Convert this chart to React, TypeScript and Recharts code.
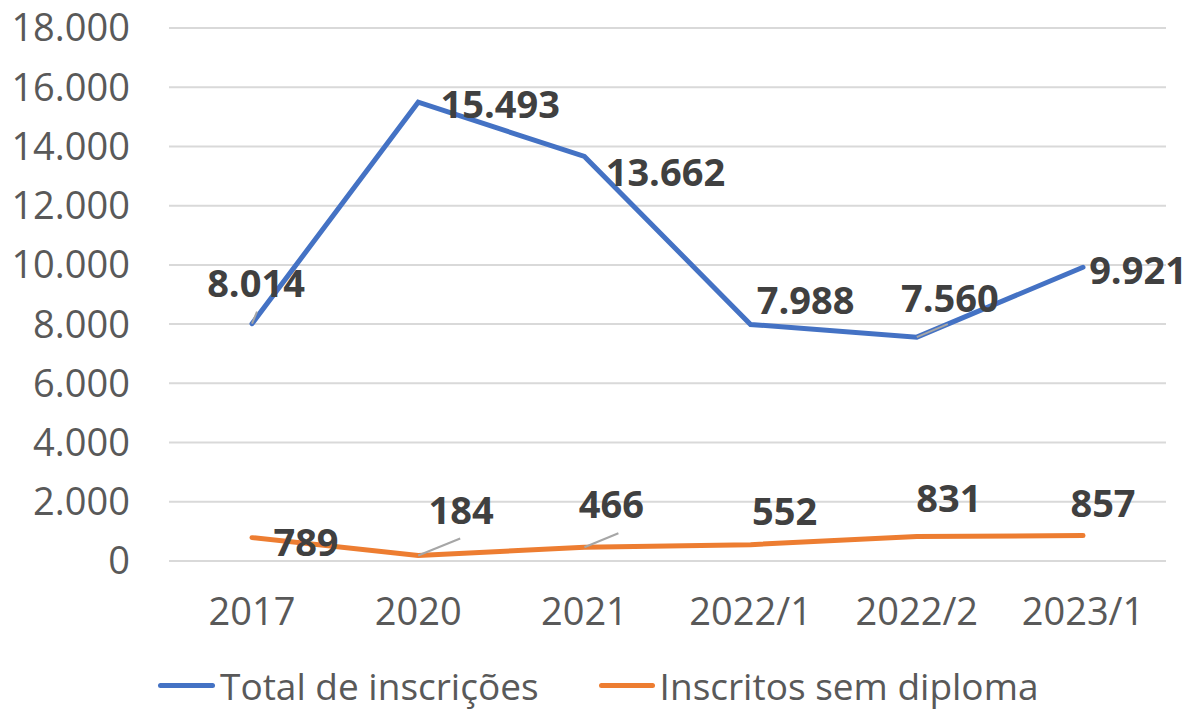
import React from 'react';
import { LineChart, Line, XAxis, YAxis, CartesianGrid, Legend, LabelList } from 'recharts';

const categories = ['2017', '2020', '2021', '2022/1', '2022/2', '2023/1'];
const totalInscricoes = [8014, 15493, 13662, 7988, 7560, 9921];
const semDiploma = [789, 184, 466, 552, 831, 857];
const yTicks = [0, 2000, 4000, 6000, 8000, 10000, 12000, 14000, 16000, 18000];

const BLUE = '#4472C4';
const ORANGE = '#ED7D31';
const FONT = '"Open Sans", "Noto Sans", sans-serif';

// label placement (text centre relative to the point) and optional leader lines
const blueOffsets = [[4, -42], [82, 1], [81, 15], [55, -25], [33, -40], [55, 2]];
const blueLeaders = [[5, -12], null, null, null, [31, -13], null];
const orangeOffsets = [[54, 3], [43, -47], [27, -44], [34, -35], [32, -39], [20, -34]];
const orangeLeaders = [null, [42, -17], [34, -14], null, null, null];

const data = categories.map((c, i) => ({
  name: c,
  total: totalInscricoes[i],
  sem: semDiploma[i],
}));

const fmt = (v: number) => String(v).replace(/\B(?=(\d{3})+(?!\d))/g, '.');

const makeLabel = (offsets: number[][], leaders: (number[] | null)[]) => (props: any) => {
  const { x, y, value, index } = props;
  const [dx, dy] = offsets[index];
  const leader = leaders[index];
  return (
    <g>
      {leader && (
        <line x1={x} y1={y} x2={x + leader[0]} y2={y + leader[1]} stroke="#A6A6A6" strokeWidth={2} />
      )}
      <text
        x={x + dx}
        y={y + dy}
        textAnchor="middle"
        dominantBaseline="central"
        fill="#404040"
        fontFamily={FONT}
        fontWeight={700}
        fontSize={38}
      >
        {fmt(value)}
      </text>
    </g>
  );
};

const renderLegend = () => (
  <div style={{ height: 49, display: 'flex', alignItems: 'center', paddingLeft: 158, fontFamily: FONT, fontSize: 37, color: '#595959' }}>
    <span style={{ display: 'inline-block', width: 57, height: 5, borderRadius: 3, background: BLUE, marginRight: 5 }} />
    <span style={{ marginRight: 60 }}>Total de inscrições</span>
    <span style={{ display: 'inline-block', width: 56, height: 5, borderRadius: 3, background: ORANGE, marginRight: 5 }} />
    <span>Inscritos sem diploma</span>
  </div>
);

export default function App() {
  return (
    <div style={{ position: 'absolute', left: 0, top: 0, width: 1191, height: 710, background: '#fff' }}>
      <LineChart width={1191} height={710} data={data} margin={{ top: 28, right: 25, left: 0, bottom: 0 }}>
        <CartesianGrid vertical={false} stroke="#D9D9D9" strokeWidth={2} />
        <XAxis
          dataKey="name"
          axisLine={false}
          tickLine={false}
          tickSize={0}
          tickMargin={37}
          height={100}
          padding={{ left: 83, right: 83 }}
          tick={{ fill: '#595959', fontSize: 38, fontFamily: FONT }}
        />
        <YAxis
          width={169}
          domain={[0, 18000]}
          ticks={yTicks}
          axisLine={false}
          tickLine={false}
          tickSize={0}
          tickMargin={39}
          tickFormatter={fmt}
          tick={{ fill: '#595959', fontSize: 38, fontFamily: FONT }}
        />
        <Legend verticalAlign="bottom" content={renderLegend} wrapperStyle={{ height: 49 }} />
        <Line
          type="linear"
          dataKey="total"
          name="Total de inscrições"
          stroke={BLUE}
          strokeWidth={5}
          strokeLinecap="round"
          dot={false}
          isAnimationActive={false}
        >
          <LabelList dataKey="total" content={makeLabel(blueOffsets, blueLeaders)} />
        </Line>
        <Line
          type="linear"
          dataKey="sem"
          name="Inscritos sem diploma"
          stroke={ORANGE}
          strokeWidth={5}
          strokeLinecap="round"
          dot={false}
          isAnimationActive={false}
        >
          <LabelList dataKey="sem" content={makeLabel(orangeOffsets, orangeLeaders)} />
        </Line>
      </LineChart>
    </div>
  );
}
